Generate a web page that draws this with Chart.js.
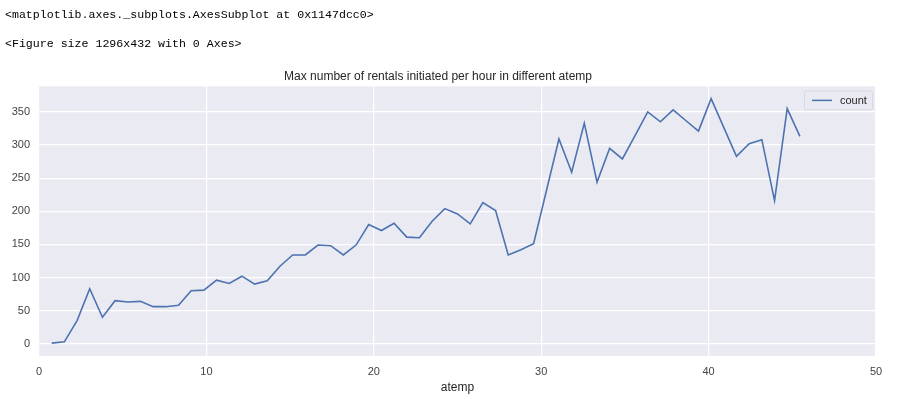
<!DOCTYPE html>
<html>
<head>
<meta charset="utf-8">
<script src="https://cdn.jsdelivr.net/npm/chart.js@4.4.1/dist/chart.umd.min.js"></script>
<style>
  body { margin: 0; background: #fff; }
  #wrap { position: relative; width: 898px; height: 399px; }
  .out { position: absolute; left: 5px; font-family: "Liberation Mono", "DejaVu Sans Mono", monospace; font-size: 11.6px; color: #000; white-space: pre; }
  canvas { position: absolute; left: 0; top: 0; }
</style>
</head>
<body>
<div id="wrap">
  <canvas id="myChart" width="898" height="399"></canvas>
  <div class="out" style="top:8px">&lt;matplotlib.axes._subplots.AxesSubplot at 0x1147dcc0&gt;</div>
  <div class="out" style="top:37px">&lt;Figure size 1296x432 with 0 Axes&gt;</div>
</div>
<script>
// atemp values and the max count for each
var atemp = [0.76, 1.515, 2.275, 3.03, 3.79, 4.545, 5.305, 6.06, 6.82, 7.575,
  8.335, 9.09, 9.85, 10.605, 11.365, 12.12, 12.88, 13.635, 14.395, 15.15,
  15.91, 16.665, 17.425, 18.18, 18.94, 19.695, 20.455, 21.21, 21.97, 22.725,
  23.485, 24.24, 25.0, 25.76, 26.515, 27.275, 28.03, 28.79, 29.545,
  31.06, 31.82, 32.575, 33.335, 34.09, 34.85, 35.605, 36.365, 37.12, 37.88,
  38.635, 39.395, 40.15, 41.665, 42.425, 43.18, 43.94, 44.695, 45.455];
var count = [1, 3, 35, 83, 40, 65, 63, 64, 56, 56,
  58, 80, 81, 96, 91, 102, 90, 95, 117, 134,
  134, 149, 148, 134, 149, 180, 171, 182, 161, 160,
  185, 204, 196, 181, 213, 201, 134, 142, 151,
  309, 259, 333, 244, 295, 279, 314, 350, 335, 353,
  337, 321, 370, 283, 302, 308, 216, 355, 313];
var xTicks = [0, 10, 20, 30, 40, 50];
var yTicks = [0, 50, 100, 150, 200, 250, 300, 350];

var lineColor = '#4C72B0';
var tickFont = { family: 'Liberation Sans, Arial', size: 11 };

var points = atemp.map(function (a, i) { return { x: a, y: count[i] }; });

// grey plot background
var bgPlugin = {
  id: 'bg',
  beforeDraw: function (chart) {
    var a = chart.chartArea, ctx = chart.ctx;
    ctx.save();
    ctx.fillStyle = '#EAEAF2';
    ctx.fillRect(a.left, a.top, a.right - a.left, a.bottom - a.top);
    ctx.restore();
  }
};

// matplotlib style legend box in the upper right
var legendPlugin = {
  id: 'mplLegend',
  afterDraw: function (chart) {
    var a = chart.chartArea, ctx = chart.ctx;
    var w = 68, h = 19;
    var x = a.right - 4 - w, y = a.top + 4;
    ctx.save();
    ctx.fillStyle = 'rgba(234,234,242,0.9)';
    ctx.strokeStyle = '#d8d8e0';
    ctx.lineWidth = 1;
    ctx.beginPath();
    ctx.roundRect(x + 0.5, y + 0.5, w, h, 2);
    ctx.fill();
    ctx.stroke();
    ctx.strokeStyle = lineColor;
    ctx.lineWidth = 1.5;
    ctx.beginPath();
    ctx.moveTo(x + 8, y + 10);
    ctx.lineTo(x + 28, y + 10);
    ctx.stroke();
    ctx.fillStyle = '#262626';
    ctx.font = '11px Liberation Sans, Arial';
    ctx.textBaseline = 'middle';
    ctx.fillText('count', x + 36, y + 10.5);
    ctx.restore();
  }
};

var ctx = document.getElementById('myChart').getContext('2d');
var chart = new Chart(ctx, {
  type: 'line',
  data: {
    datasets: [{
      label: 'count',
      data: points,
      borderColor: lineColor,
      backgroundColor: lineColor,
      borderWidth: 1.6,
      pointRadius: 0,
      tension: 0,
      fill: false
    }]
  },
  options: {
    responsive: false,
    animation: false,
    layout: { padding: { left: 0, right: 22, top: 0, bottom: 0 } },
    plugins: {
      legend: { display: false },
      tooltip: { enabled: false },
      title: {
        display: true,
        text: 'Max number of rentals initiated per hour in different atemp',
        color: '#262626',
        font: { family: 'Liberation Sans, Arial', size: 12, weight: 'normal' },
        padding: { top: 69, bottom: 3 }
      }
    },
    scales: {
      x: {
        type: 'linear',
        min: 0,
        max: 50,
        afterBuildTicks: function (s) { s.ticks = xTicks.map(function (v) { return { value: v }; }); },
        afterFit: function (s) { s.height = 43; },
        grid: { color: '#ffffff', lineWidth: 1.2, drawTicks: false },
        border: { display: false },
        ticks: { color: '#444', font: tickFont, padding: 9, maxRotation: 0 },
        title: { display: true, text: 'atemp', color: '#262626', font: { family: 'Liberation Sans, Arial', size: 12 }, padding: { top: 2 } }
      },
      y: {
        type: 'linear',
        min: -18.45,
        max: 388.45,
        afterBuildTicks: function (s) { s.ticks = yTicks.map(function (v) { return { value: v }; }); },
        afterFit: function (s) { s.width = 39; },
        grid: { color: '#ffffff', lineWidth: 1.2, drawTicks: false },
        border: { display: false },
        ticks: { color: '#444', font: tickFont, padding: 9 }
      }
    }
  },
  plugins: [bgPlugin, legendPlugin]
});
</script>
</body>
</html>
